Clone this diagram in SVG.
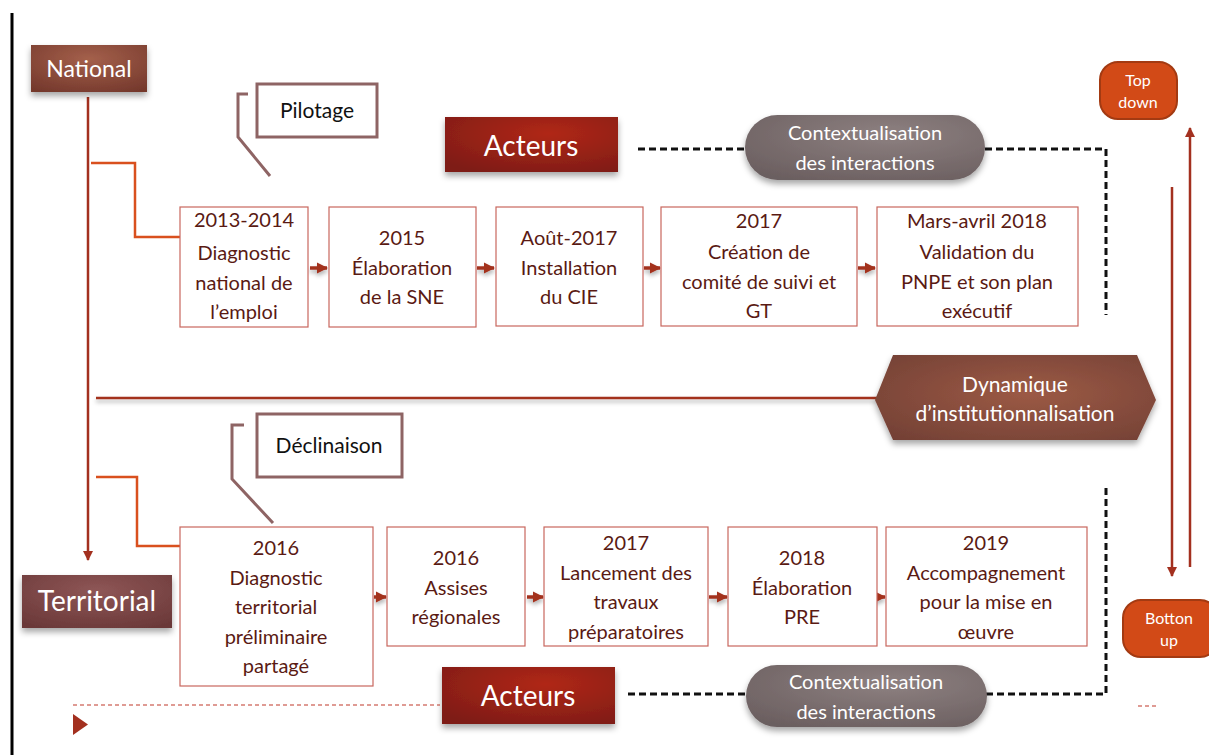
<svg xmlns="http://www.w3.org/2000/svg" width="1209" height="755" viewBox="0 0 1209 755">
<defs>
<radialGradient id="gNat" cx="0.5" cy="0.3" r="0.8"><stop offset="0" stop-color="#a4604b"/><stop offset="1" stop-color="#74382c"/></radialGradient>
<radialGradient id="gTer" cx="0.5" cy="0.3" r="0.8"><stop offset="0" stop-color="#8e5656"/><stop offset="1" stop-color="#6a3838"/></radialGradient>
<radialGradient id="gAct" cx="0.6" cy="0.3" r="0.8"><stop offset="0" stop-color="#b02719"/><stop offset="1" stop-color="#7e1c14"/></radialGradient>
<radialGradient id="gPill" cx="0.6" cy="0.3" r="0.8"><stop offset="0" stop-color="#8d8080"/><stop offset="1" stop-color="#6b5f60"/></radialGradient>
<radialGradient id="gDyn" cx="0.55" cy="0.45" r="0.8"><stop offset="0" stop-color="#9c5a45"/><stop offset="1" stop-color="#6e3d33"/></radialGradient>
<filter id="sh" x="-10%" y="-20%" width="120%" height="160%"><feDropShadow dx="0" dy="4" stdDeviation="3" flood-color="#000" flood-opacity="0.35"/></filter>
<filter id="shs" filterUnits="userSpaceOnUse" x="0" y="0" width="1209" height="755"><feDropShadow dx="0" dy="3" stdDeviation="2" flood-color="#000" flood-opacity="0.3"/></filter>
<marker id="ah" viewBox="0 0 10 10" refX="9" refY="5" markerWidth="4" markerHeight="4" orient="auto" markerUnits="strokeWidth"><path d="M0,0 L10,5 L0,10 z" fill="#a3301f"/></marker>
<marker id="ahs" viewBox="0 0 10 10" refX="9" refY="5" markerWidth="3.2" markerHeight="3.2" orient="auto" markerUnits="strokeWidth"><path d="M0,0 L10,5 L0,10 z" fill="#a3301f"/></marker>
</defs>
<style>
.t{font-family:Lato,"Open Sans","Liberation Sans",sans-serif;text-anchor:middle}
.w{fill:#ffffff}
.d{fill:#5a1a13;font-size:20px}
.box{fill:#ffffff;stroke:#c8675e;stroke-width:1.2}
.call{fill:none;stroke:#8e6464;stroke-width:3}
.callbox{fill:#ffffff;stroke:#8e6464;stroke-width:3}
.dash{fill:none;stroke:#111;stroke-width:3;stroke-dasharray:7,4}
.main{fill:none;stroke:#a3301f;stroke-width:2.5}
.br{fill:none;stroke:#d9501e;stroke-width:2.5}
.arr{stroke:#a3301f;stroke-width:3.5;marker-end:url(#ahs)}
.or{fill:#d24a17;stroke:#a33a12;stroke-width:2}
</style>

<rect width="1209" height="755" fill="#ffffff"/>
<line x1="12" y1="13" x2="12" y2="755" stroke="#000" stroke-width="3"/>

<g id="connectors">
<line class="main" x1="88" y1="97" x2="88" y2="560" marker-end="url(#ah)"/>
<polyline class="br" points="91,163 135,163 135,237 180,237"/>
<polyline class="br" points="96,477 137,477 137,546 180,546"/>
<line class="main" x1="96" y1="398" x2="880" y2="398" filter="url(#shs)"/>
<g filter="url(#shs)">
<line class="arr" x1="310" y1="268" x2="327" y2="268"/>
<line class="arr" x1="477" y1="268" x2="494" y2="268"/>
<line class="arr" x1="644" y1="268" x2="660" y2="268"/>
<line class="arr" x1="858" y1="268" x2="875" y2="268"/>
<line class="arr" x1="374" y1="597" x2="386" y2="597"/>
<line class="arr" x1="527" y1="597" x2="543" y2="597"/>
<line class="arr" x1="709" y1="597" x2="727" y2="597"/>
<line class="arr" x1="876" y1="597" x2="885" y2="597"/>
</g>
<polyline class="dash" points="638,149 745,149"/>
<polyline class="dash" points="985,149 1106,149 1106,315"/>
<polyline class="dash" points="628,694 746,694"/>
<polyline class="dash" points="986,694 1106,694 1106,484"/>
<line x1="1190" y1="567" x2="1190" y2="128" stroke="#a3301f" stroke-width="2.5" marker-end="url(#ah)"/>
<line x1="1172" y1="187" x2="1172" y2="576" stroke="#a3301f" stroke-width="2.5" marker-end="url(#ah)"/>
<line x1="73" y1="705" x2="440" y2="705" stroke="#c0392b" stroke-width="1.2" stroke-dasharray="4,3"/>
<line x1="1138" y1="706" x2="1158" y2="706" stroke="#c0392b" stroke-width="1.2" stroke-dasharray="4,3"/>
<polygon points="73,714 88,724.5 73,735" fill="#a3301f"/>
</g>

<g id="national">
<rect x="31" y="45" width="116" height="47" fill="url(#gNat)" filter="url(#sh)"/>
<text class="t w" x="89" y="77" font-size="23">National</text>
</g>

<g id="territorial">
<rect x="22" y="575" width="150" height="53" fill="url(#gTer)" filter="url(#sh)"/>
<text class="t w" x="97" y="611" font-size="28">Territorial</text>
</g>

<g id="pilotage">
<polyline class="call" points="248,94 238,94 238,137 270,176"/>
<rect class="callbox" x="257" y="84" width="120" height="53"/>
<text class="t" x="317" y="118" font-size="21" fill="#111">Pilotage</text>
</g>

<g id="declinaison">
<polyline class="call" points="244,425 232,425 232,479 273,523"/>
<rect class="callbox" x="257" y="414" width="145" height="63"/>
<text class="t" x="329" y="453" font-size="21" fill="#111">Déclinaison</text>
</g>

<g id="acteurs-top">
<rect x="445" y="117" width="173" height="55" fill="url(#gAct)" filter="url(#sh)"/>
<text class="t w" x="531" y="156" font-size="28">Acteurs</text>
</g>

<g id="context-top">
<rect x="745" y="115" width="240" height="65" rx="32.5" fill="url(#gPill)" filter="url(#sh)"/>
<text class="t w" x="865" y="140" font-size="20">Contextualisation</text>
<text class="t w" x="865" y="170" font-size="20">des interactions</text>
</g>

<g id="acteurs-bottom">
<rect x="442" y="667" width="173" height="57" fill="url(#gAct)" filter="url(#sh)"/>
<text class="t w" x="528" y="706" font-size="28">Acteurs</text>
</g>

<g id="context-bottom">
<rect x="746" y="665" width="241" height="62" rx="31" fill="url(#gPill)" filter="url(#sh)"/>
<text class="t w" x="866" y="689" font-size="20">Contextualisation</text>
<text class="t w" x="866" y="719" font-size="20">des interactions</text>
</g>

<g id="topdown">
<rect class="or" x="1100" y="62" width="77" height="57" rx="18"/>
<text class="t w" x="1138" y="86" font-size="16">Top</text>
<text class="t w" x="1138" y="108" font-size="16">down</text>
</g>

<g id="bottonup">
<rect class="or" x="1123" y="600" width="95" height="57" rx="18"/>
<text class="t w" x="1169" y="624" font-size="16">Botton</text>
<text class="t w" x="1169" y="646" font-size="16">up</text>
</g>

<g id="dynamique">
<polygon points="875,400 893,355 1137,355 1156,400 1137,440 893,440" fill="url(#gDyn)" filter="url(#sh)"/>
<text class="t w" x="1015" y="392" font-size="21">Dynamique</text>
<text class="t w" x="1015" y="421" font-size="21">d’institutionnalisation</text>
</g>

<g id="n1">
<rect class="box" x="180" y="207" width="128" height="120"/>
<text class="t d" x="244" y="227">2013-2014</text>
<text class="t d" x="244" y="260">Diagnostic</text>
<text class="t d" x="244" y="290">national de</text>
<text class="t d" x="244" y="319">l’emploi</text>
</g>
<g id="n2">
<rect class="box" x="329" y="207" width="147" height="120"/>
<text class="t d" x="402" y="245">2015</text>
<text class="t d" x="402" y="275">Élaboration</text>
<text class="t d" x="402" y="304">de la SNE</text>
</g>
<g id="n3">
<rect class="box" x="496" y="207" width="147" height="119"/>
<text class="t d" x="569" y="245">Août-2017</text>
<text class="t d" x="569" y="275">Installation</text>
<text class="t d" x="569" y="304">du CIE</text>
</g>
<g id="n4">
<rect class="box" x="661" y="207" width="196" height="119"/>
<text class="t d" x="759" y="228">2017</text>
<text class="t d" x="759" y="259">Création de</text>
<text class="t d" x="759" y="289">comité de suivi et</text>
<text class="t d" x="759" y="318">GT</text>
</g>
<g id="n5">
<rect class="box" x="877" y="207" width="201" height="119"/>
<text class="t d" x="977" y="228">Mars-avril 2018</text>
<text class="t d" x="977" y="259">Validation du</text>
<text class="t d" x="977" y="289">PNPE et son plan</text>
<text class="t d" x="977" y="318">exécutif</text>
</g>

<g id="b1">
<rect class="box" x="180" y="527" width="193" height="159"/>
<text class="t d" x="276" y="555">2016</text>
<text class="t d" x="276" y="585">Diagnostic</text>
<text class="t d" x="276" y="614">territorial</text>
<text class="t d" x="276" y="644">préliminaire</text>
<text class="t d" x="276" y="673">partagé</text>
</g>
<g id="b2">
<rect class="box" x="387" y="527" width="138" height="119"/>
<text class="t d" x="456" y="565">2016</text>
<text class="t d" x="456" y="595">Assises</text>
<text class="t d" x="456" y="624">régionales</text>
</g>
<g id="b3">
<rect class="box" x="544" y="527" width="164" height="119"/>
<text class="t d" x="626" y="550">2017</text>
<text class="t d" x="626" y="580">Lancement des</text>
<text class="t d" x="626" y="609">travaux</text>
<text class="t d" x="626" y="639">préparatoires</text>
</g>
<g id="b4">
<rect class="box" x="728" y="527" width="149" height="119"/>
<text class="t d" x="802" y="565">2018</text>
<text class="t d" x="802" y="595">Élaboration</text>
<text class="t d" x="802" y="624">PRE</text>
</g>
<g id="b5">
<rect class="box" x="886" y="527" width="201" height="119"/>
<text class="t d" x="986" y="550">2019</text>
<text class="t d" x="986" y="580">Accompagnement</text>
<text class="t d" x="986" y="609">pour la mise en</text>
<text class="t d" x="986" y="639">œuvre</text>
</g>
</svg>
